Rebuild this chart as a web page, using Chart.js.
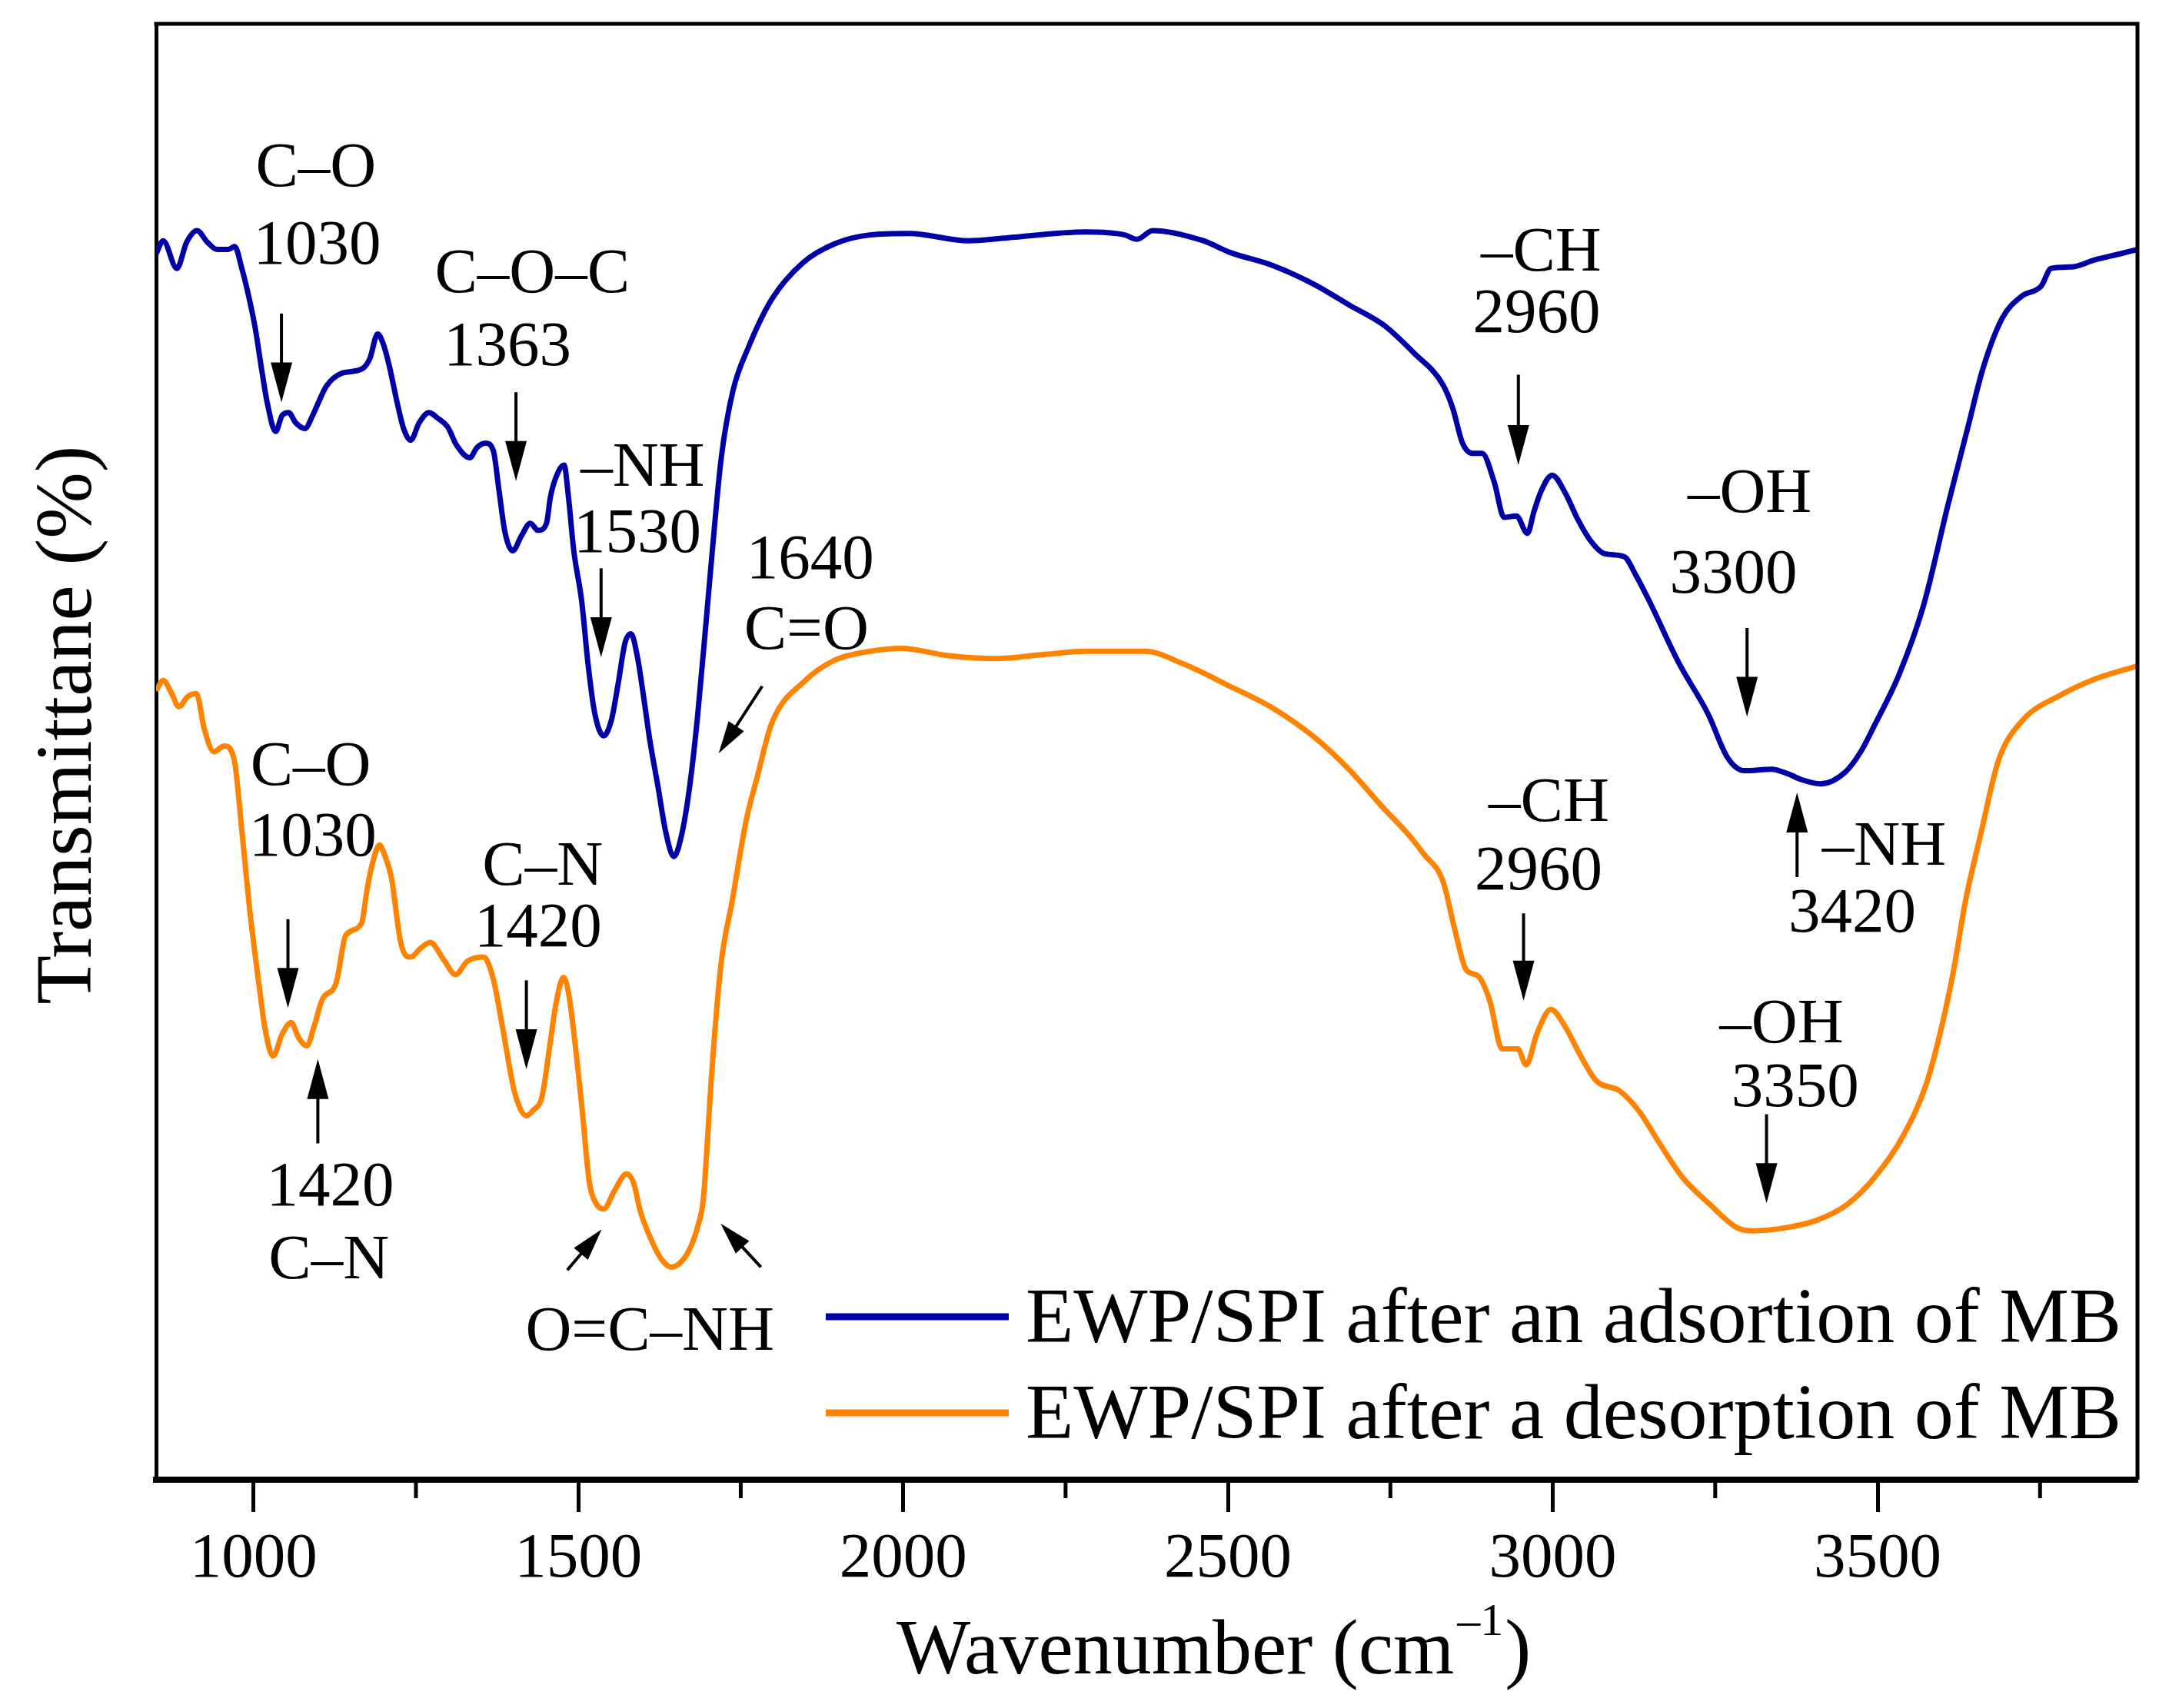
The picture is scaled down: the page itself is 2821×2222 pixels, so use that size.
<!DOCTYPE html>
<html>
<head>
<meta charset="utf-8">
<title>FTIR spectra EWP/SPI</title>
<script src="https://cdn.jsdelivr.net/npm/chart.js@4.4.1/dist/chart.umd.min.js"></script>
<style>
  html, body { margin: 0; padding: 0; background: #fff; }
  #wrap { width: 2821px; height: 2222px; }
</style>
</head>
<body>
<div id="wrap"><canvas id="ftirChart"></canvas></div>
<script>
const seriesLabels = ["EWP/SPI after an adsortion of MB", "EWP/SPI after a desorption of MB"];

// after adsorption (blue)
const wnBlue = [850, 861, 882, 897, 913, 929, 944, 961, 971, 982,
  993, 1003, 1012, 1021, 1034, 1044, 1054, 1065, 1079, 1091,
  1100, 1112, 1136, 1167, 1179, 1191, 1199, 1209, 1221, 1231,
  1242, 1255, 1270, 1284, 1299, 1312, 1333, 1344, 1357, 1369,
  1378, 1387, 1399, 1412, 1426, 1438, 1451, 1457, 1466, 1478,
  1485, 1493, 1505, 1515, 1525, 1539, 1551, 1561, 1572, 1581,
  1591, 1601, 1610, 1623, 1634, 1647, 1659, 1671, 1683, 1695,
  1707, 1720, 1738, 1762, 1798, 1846, 1895, 1949, 2010, 2100,
  2160, 2281, 2341, 2360, 2384, 2462, 2503, 2569, 2633, 2686,
  2740, 2786, 2831, 2846, 2861, 2876, 2891, 2910, 2925, 2944,
  2961, 2971, 2982, 2999, 3020, 3038, 3058, 3080, 3110, 3127,
  3148, 3194, 3239, 3269, 3295, 3337, 3361, 3382, 3412, 3450,
  3474, 3495, 3533, 3571, 3608, 3639, 3662, 3692, 3722, 3752,
  3767, 3798, 3835, 3873, 3900];
const tBlue = [84.2, 85.1, 83.2, 85.0, 85.8, 85.0, 84.5, 84.5, 84.7, 83.2,
  81.2, 79.0, 76.4, 74.0, 72.0, 73.1, 73.3, 72.6, 72.2, 73.1,
  74.0, 75.1, 76.0, 76.3, 77.0, 78.7, 78.1, 76.5, 74.0, 72.2,
  71.4, 72.6, 73.3, 72.9, 72.3, 71.1, 70.2, 70.9, 71.2, 70.7,
  67.9, 65.1, 63.8, 64.8, 65.7, 65.2, 65.7, 67.5, 68.9, 69.7,
  67.4, 63.8, 60.4, 56.0, 52.7, 51.1, 52.2, 54.6, 57.5, 58.1,
  56.5, 53.6, 50.8, 47.5, 44.6, 42.8, 44.3, 47.5, 52.2, 58.1,
  64.2, 70.2, 74.8, 77.8, 81.1, 83.6, 84.9, 85.5, 85.6, 85.1,
  85.3, 85.7, 85.5, 85.2, 85.8, 85.1, 84.3, 83.4, 82.1, 80.7,
  79.3, 77.4, 75.2, 73.6, 71.2, 70.5, 70.5, 68.5, 66.1, 66.2,
  65.0, 66.5, 67.9, 69.0, 67.7, 66.0, 64.5, 63.6, 63.4, 62.2,
  60.4, 56.1, 52.6, 49.6, 48.7, 48.8, 48.5, 48.1, 47.8, 48.6,
  50.0, 51.8, 55.3, 60.1, 66.9, 72.3, 76.3, 79.8, 81.3, 82.0,
  83.2, 83.3, 83.8, 84.2, 84.5];

// after desorption (orange)
const wnOrange = [850, 861, 873, 885, 899, 912, 924, 939, 955, 970,
  982, 994, 1009, 1018, 1030, 1044, 1058, 1069, 1082, 1093,
  1106, 1127, 1142, 1166, 1175, 1184, 1194, 1201, 1212, 1227,
  1242, 1257, 1272, 1293, 1311, 1329, 1354, 1369, 1384, 1402,
  1420, 1431, 1444, 1456, 1466, 1477, 1485, 1492, 1505, 1517,
  1527, 1539, 1555, 1574, 1585, 1595, 1613, 1627, 1643, 1659,
  1674, 1685, 1692, 1698, 1704, 1719, 1737, 1758, 1776, 1798,
  1847, 1895, 1949, 1997, 2070, 2142, 2221, 2281, 2372, 2433,
  2503, 2569, 2633, 2686, 2740, 2776, 2801, 2831, 2849, 2867,
  2885, 2903, 2922, 2946, 2959, 2976, 2997, 3018, 3043, 3067,
  3103, 3133, 3163, 3199, 3242, 3284, 3308, 3357, 3405, 3453,
  3496, 3539, 3575, 3599, 3617, 3635, 3659, 3686, 3722, 3782,
  3835, 3900];
const tOrange = [54.2, 54.9, 54.1, 53.1, 53.8, 54.0, 51.6, 50.0, 50.4, 49.5,
  44.6, 39.2, 33.8, 30.9, 29.1, 30.6, 31.4, 30.4, 29.8, 31.1,
  33.0, 34.1, 37.4, 38.2, 40.6, 42.5, 43.6, 43.0, 41.4, 36.8,
  35.9, 36.5, 36.9, 35.7, 34.7, 35.6, 35.9, 34.4, 30.9, 26.6,
  25.0, 25.4, 26.3, 29.8, 32.8, 34.5, 33.4, 31.1, 25.8, 20.4,
  19.0, 18.6, 19.8, 21.0, 20.4, 18.5, 16.4, 15.2, 14.6, 15.0,
  16.1, 17.6, 19.1, 22.8, 27.1, 35.2, 39.8, 45.2, 48.4, 52.0,
  54.8, 56.3, 56.9, 57.1, 56.6, 56.4, 56.7, 56.9, 56.9, 56.0,
  54.5, 53.0, 51.0, 48.8, 46.1, 44.4, 43.0, 41.1, 37.8, 35.0,
  34.6, 32.9, 29.6, 29.6, 28.5, 30.7, 32.3, 31.2, 29.1, 27.4,
  26.7, 25.3, 23.2, 20.8, 18.9, 17.3, 17.1, 17.3, 17.8, 18.9,
  20.8, 23.6, 27.2, 31.2, 35.0, 39.7, 44.4, 49.4, 52.1, 53.9,
  55.0, 55.9];

// labelled (major) and unlabelled (minor) ticks on the wavenumber axis
const xTickLabels = [1000, 1500, 2000, 2500, 3000, 3500];
const xMinorTicks = [1250, 1750, 2250, 2750, 3250, 3750];

// band labels: [text, wavenumber, transmittance] (centre of the text)
const peakLabels = [
  ["C\u2013O", 1096, 90.0], ["1030", 1098, 84.7],
  ["C\u2013O\u2013C", 1429, 82.7], ["1363", 1391, 77.7],
  ["\u2013NH", 1599, 69.4], ["1530", 1591, 64.9],
  ["1640", 1857, 63.1], ["C=O", 1851, 58.2],
  ["\u2013CH", 2982, 84.2], ["2960", 2975, 80.0],
  ["\u2013OH", 3303, 67.6], ["3300", 3278, 62.1],
  ["\u2013NH", 3510, 43.4], ["3420", 3461, 38.8],
  ["C\u2013O", 1088, 48.9], ["1030", 1091, 44.0],
  ["1420", 1118, 20.0], ["C\u2013N", 1116, 15.0],
  ["C\u2013N", 1445, 42.0], ["1420", 1438, 37.8],
  ["O=C\u2013NH", 1610, 10.1],
  ["\u2013CH", 2994, 46.4], ["2960", 2978, 41.7],
  ["\u2013OH", 3352, 31.2], ["3350", 3373, 26.8]
];

// arrows: [tail wavenumber, tail T, tip wavenumber, tip T]
const peakArrows = [
  [1043, 80.1, 1043, 74.0], [1404, 74.7, 1404, 68.6], [1535, 62.6, 1535, 56.5],
  [1783, 54.5, 1716, 49.9], [2947, 75.9, 2947, 69.7], [3299, 58.5, 3299, 52.4],
  [3376, 41.4, 3376, 47.2],
  [1053, 38.5, 1053, 32.4], [1099, 23.1, 1099, 28.9], [1420, 34.3, 1420, 28.2],
  [1483, 14.4, 1536, 17.2], [1781, 14.6, 1719, 17.6],
  [2955, 38.9, 2955, 32.9], [3329, 25.1, 3329, 19.0]
];

const serif = '"Liberation Serif", "Times New Roman", serif';
const blue = "#0000a8";
const orange = "#ff8300";

function toPoints(xs, ys) {
  return xs.map((x, i) => ({ x: x, y: ys[i] }));
}

function drawArrow(ctx, x1, y1, x2, y2, headLen, headW) {
  const dx = x2 - x1, dy = y2 - y1;
  const len = Math.sqrt(dx * dx + dy * dy);
  const ux = dx / len, uy = dy / len;
  const bx = x2 - ux * headLen, by = y2 - uy * headLen;
  ctx.beginPath();
  ctx.moveTo(x1, y1);
  ctx.lineTo(bx + ux * 4, by + uy * 4);
  ctx.stroke();
  ctx.beginPath();
  ctx.moveTo(x2, y2);
  ctx.lineTo(bx - uy * headW / 2, by + ux * headW / 2);
  ctx.lineTo(bx + uy * headW / 2, by - ux * headW / 2);
  ctx.closePath();
  ctx.fill();
}

const decorations = {
  id: "decorations",
  afterDraw(chart) {
    const ctx = chart.ctx;
    const area = chart.chartArea;
    const xs = chart.scales.x, ys = chart.scales.y;
    ctx.save();
    ctx.strokeStyle = "#000";
    ctx.fillStyle = "#000";

    // top and right frame lines
    ctx.lineWidth = 5;
    ctx.beginPath();
    ctx.moveTo(area.left - 2.5, area.top);
    ctx.lineTo(area.right, area.top);
    ctx.lineTo(area.right, area.bottom);
    ctx.stroke();

    // short minor ticks
    ctx.lineWidth = 5;
    xMinorTicks.forEach(v => {
      const px = xs.getPixelForValue(v);
      ctx.beginPath();
      ctx.moveTo(px, area.bottom);
      ctx.lineTo(px, area.bottom + 24);
      ctx.stroke();
    });

    // band labels
    ctx.font = "83px " + serif;
    ctx.textAlign = "center";
    ctx.textBaseline = "middle";
    peakLabels.forEach(l => {
      ctx.fillText(l[0], xs.getPixelForValue(l[1]), ys.getPixelForValue(l[2]));
    });

    // arrows
    ctx.lineWidth = 4;
    peakArrows.forEach(a => {
      const vertical = a[0] === a[2];
      drawArrow(ctx,
        xs.getPixelForValue(a[0]), ys.getPixelForValue(a[1]),
        xs.getPixelForValue(a[2]), ys.getPixelForValue(a[3]),
        vertical ? 52 : 42, vertical ? 28 : 24);
    });

    // legend inside the plot
    ctx.font = "102px " + serif;
    ctx.textAlign = "left";
    ctx.textBaseline = "alphabetic";
    const rows = [area.bottom - 179, area.bottom - 54];
    chart.data.datasets.forEach((ds, i) => {
      ctx.strokeStyle = ds.borderColor;
      ctx.lineWidth = 9;
      ctx.beginPath();
      ctx.moveTo(area.left + 871, rows[i] - 33);
      ctx.lineTo(area.left + 1109, rows[i] - 33);
      ctx.stroke();
      ctx.fillText(ds.label, area.left + 1131, rows[i]);
    });

    // x axis title with superscript
    const tx = area.left + 963, tb = area.bottom + 252;
    ctx.font = "102px " + serif;
    const main = "Wavenumber (cm";
    ctx.fillText(main, tx, tb);
    const w = ctx.measureText(main).width;
    ctx.font = "60px " + serif;
    ctx.fillText("\u20131", tx + w + 4, tb - 50);
    const sw = ctx.measureText("\u20131").width;
    ctx.font = "102px " + serif;
    ctx.fillText(")", tx + w + sw + 6, tb);

    // y axis title
    ctx.translate(118, area.top + 912);
    ctx.rotate(-Math.PI / 2);
    ctx.font = "104px " + serif;
    ctx.textAlign = "center";
    ctx.fillText("Transmittane (%)", 0, 0);
    ctx.restore();
  }
};

new Chart(document.getElementById("ftirChart"), {
  type: "line",
  data: {
    datasets: [
      {
        label: seriesLabels[0],
        data: toPoints(wnBlue, tBlue),
        borderColor: blue,
        borderWidth: 7,
        pointRadius: 0,
        cubicInterpolationMode: "monotone"
      },
      {
        label: seriesLabels[1],
        data: toPoints(wnOrange, tOrange),
        borderColor: orange,
        borderWidth: 7,
        pointRadius: 0,
        cubicInterpolationMode: "monotone"
      }
    ]
  },
  options: {
    responsive: true,
    maintainAspectRatio: false,
    devicePixelRatio: 1,
    animation: false,
    layout: { padding: { left: 203, right: 41, top: 31, bottom: 0 } },
    plugins: {
      legend: { display: false },
      tooltip: { enabled: false }
    },
    scales: {
      x: {
        type: "linear",
        min: 850,
        max: 3900,
        afterFit: s => { s.height = 297; },
        afterBuildTicks: s => { s.ticks = xTickLabels.map(v => ({ value: v })); },
        ticks: {
          autoSkip: false,
          maxRotation: 0,
          padding: 12,
          color: "#000",
          font: { family: serif, size: 83 },
          callback: v => String(v)
        },
        grid: {
          drawOnChartArea: false,
          drawTicks: true,
          tickLength: 42,
          tickWidth: 5,
          tickColor: "#000"
        },
        border: { display: true, color: "#000", width: 8 }
      },
      y: {
        min: 0,
        max: 100,
        afterFit: s => { s.width = 0; },
        ticks: { display: false },
        grid: { display: false },
        border: { display: true, color: "#000", width: 5 }
      }
    }
  },
  plugins: [decorations]
});
</script>
</body>
</html>
